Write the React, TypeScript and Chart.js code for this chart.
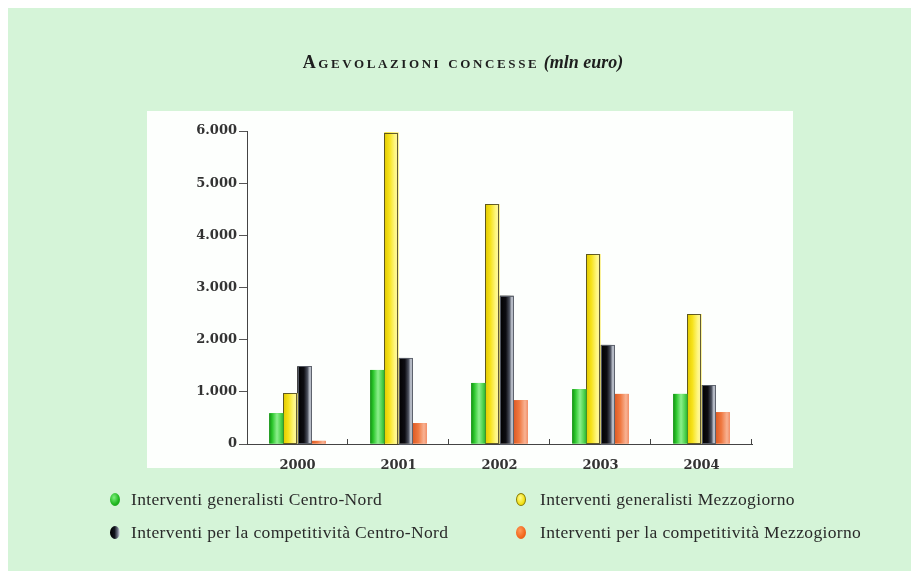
import React, { useEffect, useRef } from 'react';
import { Chart, registerables } from 'chart.js';

Chart.register(...registerables);

// ---- data ----
const years = ['2000', '2001', '2002', '2003', '2004'];
const generalistiCentroNord = [590, 1420, 1170, 1050, 960];
const generalistiMezzogiorno = [970, 5970, 4600, 3640, 2490];
const competitivitaCentroNord = [1490, 1650, 2840, 1900, 1130];
const competitivitaMezzogiorno = [60, 400, 840, 960, 610];
const yTickValues = [0, 1000, 2000, 3000, 4000, 5000, 6000];
const yTickLabels = ['0', '1.000', '2.000', '3.000', '4.000', '5.000', '6.000'];
const seriesLabels = [
  'Interventi generalisti Centro-Nord',
  'Interventi generalisti Mezzogiorno',
  'Interventi per la competitività Centro-Nord',
  'Interventi per la competitività Mezzogiorno',
];

// ---- styles ----
const W = 903;
const H = 563;
const BG = '#d5f4d8';
const baseColors = ['#34c534', '#f5e41c', '#111111', '#f07a45'];
const barStops: [number, string][][] = [
  [[0, '#178c17'], [0.2, '#27c427'], [0.55, '#8cef8c'], [0.8, '#56d656'], [1, '#2db52d']],
  [[0, '#e2c900'], [0.35, '#f6e21a'], [0.75, '#fff886'], [1, '#fff4a8']],
  [[0, '#000000'], [0.45, '#0d0d12'], [0.7, '#4a4f5c'], [0.88, '#c9ced8'], [1, '#8f95a2']],
  [[0, '#dc5a24'], [0.4, '#ef7840'], [0.8, '#f8b394'], [1, '#f2906a']],
];
const barOutline = [null, 'rgba(70,66,30,0.85)', 'rgba(90,95,105,0.9)', null];
const markerBg = [
  'radial-gradient(ellipse at 40% 35%, #7cf07c 0%, #22b822 55%, #0f8f0f 100%)',
  'radial-gradient(ellipse at 40% 35%, #fffa90 0%, #f3e21a 60%, #d8c200 100%)',
  'linear-gradient(to right, #000 0%, #11131c 45%, #6a7080 75%, #dfe3ec 100%)',
  'radial-gradient(ellipse at 40% 35%, #ff9a5a 0%, #f2661c 60%, #d94f0c 100%)',
];
const markerBorder = ['none', '1px solid #8a7c00', 'none', 'none'];

const tickFont = { family: '"DejaVu Serif", serif', size: 13, weight: 'bold' as const };

const panelPlugin = {
  id: 'panel',
  beforeDraw(chart: any) {
    const { ctx, chartArea: ca } = chart;
    ctx.save();
    ctx.fillStyle = '#fdfffd';
    ctx.fillRect(ca.left - 100, ca.top - 20, ca.right - ca.left + 141, ca.bottom - ca.top + 44);
    ctx.restore();
  },
};

const sheenPlugin = {
  id: 'sheen',
  afterDatasetDraw(chart: any, args: any) {
    const { ctx } = chart;
    const stops = barStops[args.index];
    const outline = barOutline[args.index];
    ctx.save();
    args.meta.data.forEach((bar: any) => {
      const { x, y, base, width } = bar.getProps(['x', 'y', 'base', 'width'], true);
      const left = x - width / 2;
      const top = Math.min(y, base);
      const h = Math.abs(base - y);
      const g = ctx.createLinearGradient(left, 0, left + width, 0);
      stops.forEach(([o, c]) => g.addColorStop(o, c));
      ctx.fillStyle = g;
      ctx.fillRect(left, top, width, h);
      if (outline) {
        ctx.strokeStyle = outline;
        ctx.lineWidth = 1;
        ctx.strokeRect(Math.round(left) + 0.5, Math.round(top) + 0.5, Math.round(width) - 1, Math.round(h));
      }
    });
    ctx.restore();
  },
};

const xTicksPlugin = {
  id: 'xTicksUp',
  afterDraw(chart: any) {
    const { ctx, scales } = chart;
    const xs = scales.x;
    const n = years.length;
    const cat = xs.width / n;
    ctx.save();
    ctx.strokeStyle = '#444';
    ctx.lineWidth = 1;
    for (let i = 0; i < n; i++) {
      const px = Math.round(xs.getPixelForValue(i) + cat / 2) - 0.5;
      ctx.beginPath();
      ctx.moveTo(px, xs.top - 5);
      ctx.lineTo(px, xs.top);
      ctx.stroke();
    }
    ctx.restore();
  },
};

export default function App() {
  const ref = useRef<HTMLCanvasElement | null>(null);

  useEffect(() => {
    if (!ref.current) return;
    const seriesData = [
      generalistiCentroNord,
      generalistiMezzogiorno,
      competitivitaCentroNord,
      competitivitaMezzogiorno,
    ];
    const chart = new Chart(ref.current, {
      type: 'bar',
      data: {
        labels: years,
        datasets: seriesData.map((d, i) => ({
          label: seriesLabels[i],
          data: d,
          backgroundColor: baseColors[i],
          borderWidth: 0,
          categoryPercentage: 0.56,
          barPercentage: 1,
        })),
      },
      options: {
        responsive: false,
        animation: false,
        devicePixelRatio: 1,
        layout: { padding: { left: 0, right: 159, top: 123, bottom: 97 } },
        plugins: {
          legend: { display: false },
          title: { display: false },
          tooltip: { enabled: false },
        },
        scales: {
          x: {
            grid: { display: false },
            border: { display: true, color: '#444', width: 1 },
            ticks: { font: tickFont, color: '#333', padding: 6 },
            afterFit(scale: any) {
              scale.height = 30;
            },
          },
          y: {
            min: 0,
            max: 6000,
            afterBuildTicks(scale: any) {
              scale.ticks = yTickValues.map((v) => ({ value: v }));
            },
            grid: {
              display: true,
              drawOnChartArea: false,
              drawTicks: true,
              tickLength: 8,
              color: '#555',
              lineWidth: 1,
            },
            border: { display: true, color: '#444', width: 1 },
            ticks: {
              font: tickFont,
              color: '#333',
              padding: 2,
              callback: (_v: any, idx: number) => yTickLabels[idx],
            },
            afterFit(scale: any) {
              scale.width = 239;
            },
          },
        },
      },
      plugins: [panelPlugin, sheenPlugin, xTicksPlugin],
    });
    return () => chart.destroy();
  }, []);

  const legendPos = [
    { x: 107, y: 492 },
    { x: 513, y: 492 },
    { x: 107, y: 525 },
    { x: 513, y: 525 },
  ];

  return (
    <div
      style={{
        position: 'fixed',
        left: 8,
        top: 8,
        width: W,
        height: H,
        background: BG,
        overflow: 'hidden',
      }}
    >
      <canvas ref={ref} width={W} height={H} style={{ position: 'absolute', left: 0, top: 0, width: W, height: H }} />
      <div
        style={{
          position: 'absolute',
          left: 0,
          top: 45,
          width: 910,
          textAlign: 'center',
          fontFamily: '"Liberation Serif", serif',
          fontSize: 18,
          lineHeight: '18px',
          color: '#1e1e1e',
          fontWeight: 'bold',
          whiteSpace: 'nowrap',
        }}
      >
        <span style={{ fontVariant: 'small-caps', letterSpacing: 2.6 }}>Agevolazioni concesse</span>{' '}
        <span style={{ fontStyle: 'italic', fontSize: 18 }}>(mln euro)</span>
      </div>
      {seriesLabels.map((lab, i) => (
        <div key={lab}>
          <span
            style={{
              position: 'absolute',
              left: legendPos[i].x - 5,
              top: legendPos[i].y - 7,
              width: 10,
              height: 13,
              borderRadius: '50%',
              background: markerBg[i],
              border: markerBorder[i],
              boxSizing: 'border-box',
            }}
          />
          <span
            style={{
              position: 'absolute',
              left: legendPos[i].x + (i % 2 === 0 ? 16 : 19),
              top: legendPos[i].y - 11,
              fontFamily: '"Liberation Serif", serif',
              fontSize: 17.5,
              lineHeight: '20px',
              letterSpacing: 0.35,
              color: '#2a2a2a',
              whiteSpace: 'nowrap',
            }}
          >
            {lab}
          </span>
        </div>
      ))}
    </div>
  );
}
